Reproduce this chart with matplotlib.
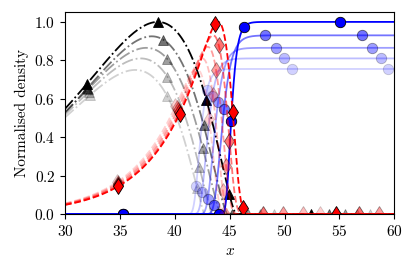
import matplotlib
import matplotlib.pyplot as plt
import numpy as np

matplotlib.use("Agg")

plt.rcParams["font.family"] = "serif"
plt.rcParams["font.serif"] = ["cmr10", "DejaVu Serif"]
plt.rcParams["mathtext.fontset"] = "cm"
plt.rcParams["axes.formatter.use_mathtext"] = True
plt.rcParams["font.size"] = 11

# opacity of each snapshot, darkest (latest) first
alphas = [1.0, 0.55, 0.38, 0.26, 0.18]

# black dash-dot humps: height, peak position, end of support, skew
black_height = [1.0, 0.925, 0.865, 0.81, 0.75]
black_peak = [38.45, 37.9, 37.4, 36.9, 36.4]
black_end = [45.6, 44.8, 44.2, 43.4, 42.7]
black_shape = [1.5, 1.47, 1.4, 1.33, 1.27]

# red dashed profiles: height, peak position, tail rate, cut-off width
red_height = [1.0, 0.93, 0.87, 0.81, 0.755]
red_peak = [43.95, 43.5, 43.0, 42.5, 42.0]
red_rate = [0.23, 0.23, 0.23, 0.23, 0.23]
red_width = [0.68, 0.68, 0.68, 0.68, 0.68]

# blue solid fronts: plateau, mid position, width
blue_height = [1.0, 0.93, 0.865, 0.81, 0.755]
blue_mid = [45.02, 44.14, 43.46, 42.81, 42.16]
blue_width = [0.36, 0.55, 0.52, 0.48, 0.42]

x = np.linspace(30, 60, 6001)


def hump(x, h, p, b, beta):
    d = b - p
    y = np.zeros_like(x)
    m = x < b
    y[m] = h * np.exp(beta / d * (x[m] - p)) * ((b - x[m]) / d) ** beta
    return y


def spike(x, h, p, k, w):
    c = p - w * np.log(k * w)
    return h * np.exp(k * (x - p) - np.exp((x - c) / w) + k * w)


def front(x, h, c, w):
    return h * np.exp(-np.exp(-(x - c) / w))


fig = plt.figure(figsize=(4.15, 2.73), dpi=100)
ax = fig.add_axes([65 / 415, 1 - 214 / 273, 329.3 / 415, 201.7 / 273])

mk = dict(markeredgecolor="k", markeredgewidth=0.6, linewidth=1.3)

for i in reversed(range(5)):
    ax.plot(x, hump(x, black_height[i], black_peak[i], black_end[i], black_shape[i]),
            "-.", color="k", marker="^", markersize=7.5, markevery=(0.086, 0.25),
            alpha=alphas[i], **mk)
for i in reversed(range(5)):
    ax.plot(x, front(x, blue_height[i], blue_mid[i], blue_width[i]),
            "-", color="blue", marker="o", markersize=7.5, markevery=(0.149, 0.25),
            alpha=alphas[i], **mk)
for i in reversed(range(5)):
    ax.plot(x, spike(x, red_height[i], red_peak[i], red_rate[i], red_width[i]),
            "--", color="red", marker="d", markersize=8.5, markevery=(0.147, 0.25),
            alpha=alphas[i], **mk)

ax.set_xlim(30, 60)
ax.set_ylim(0, 1.05)
ax.set_xticks([30, 35, 40, 45, 50, 55, 60])
ax.set_yticks([0.0, 0.2, 0.4, 0.6, 0.8, 1.0])
ax.tick_params(direction="out", length=3.5, width=0.8)
ax.set_xlabel("$x$")
ax.set_ylabel("Normalised density")

fig.savefig("out.png", dpi=100)
